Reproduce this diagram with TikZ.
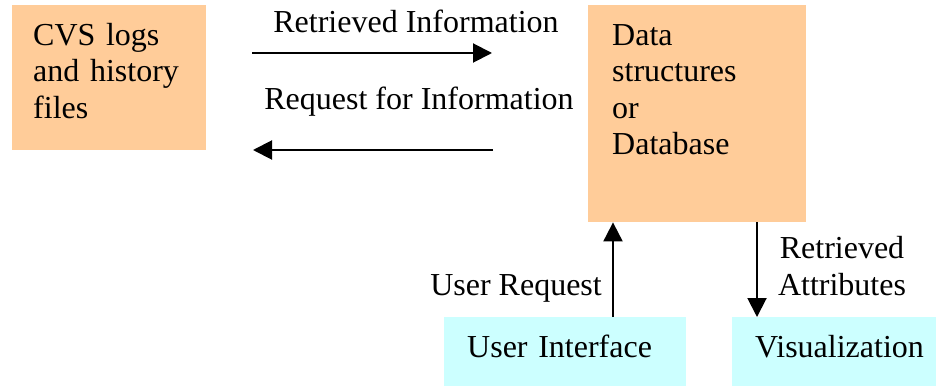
\documentclass[tikz,border=0pt]{standalone}
\usepackage{fontspec}
\setmainfont{Liberation Serif}
\usetikzlibrary{arrows.meta}

\definecolor{peach}{HTML}{FFCC99}
\definecolor{palecyan}{HTML}{CCFFFF}

\begin{document}
\begin{tikzpicture}[x=1pt,y=-1pt,
    font=\fontsize{32}{36.5}\selectfont,
    box/.style={anchor=north west, inner ysep=0pt, align=left,
      text height=40pt},
    store/.style={box, fill=peach},
    tool/.style={box, fill=palecyan, inner xsep=23pt, text depth=29pt},
    link/.style={line width=2pt, -{Triangle[length=19pt,width=19pt]}}]
  \useasboundingbox (0,0) rectangle (936,387);

  \node[store, inner xsep=21pt, text width=152pt, text depth=105pt] (cvs) at (12,5)
    {CVS logs\\and history\\files};
  \node[store, inner xsep=24pt, text width=170pt, text depth=177pt] (db) at (588,5)
    {Data\\structures\\or\\Database};
  \node[tool, text width=196pt] (ui) at (444,317) {User Interface};
  \node[tool, text width=158pt] (vis) at (732,317) {Visualization};

  \coordinate (ri1) at (252,53);
  \coordinate (ri2) at (492,53);
  \coordinate (rq1) at (493,150);
  \coordinate (rq2) at (253,150);
  \coordinate (upx) at (613,0);
  \coordinate (dnx) at (757,0);

  \draw[link] (ri1) -- (ri2);
  \draw[link] (rq1) -- (rq2);
  \draw[link] (ui.north -| upx) -- (db.south -| upx);
  \draw[link] (db.south -| dnx) -- (vis.north -| dnx);

  \node[anchor=base] (riL) at (416,33) {Retrieved Information};
  \node[anchor=base] (rqL) at (419,110) {Request for Information};
  \node[anchor=base east, inner xsep=0pt] (urL) at (602,295) {User Request};
  \node[anchor=base, align=center] (raL) at (842,295) {Retrieved\\Attributes};
\end{tikzpicture}
\end{document}
